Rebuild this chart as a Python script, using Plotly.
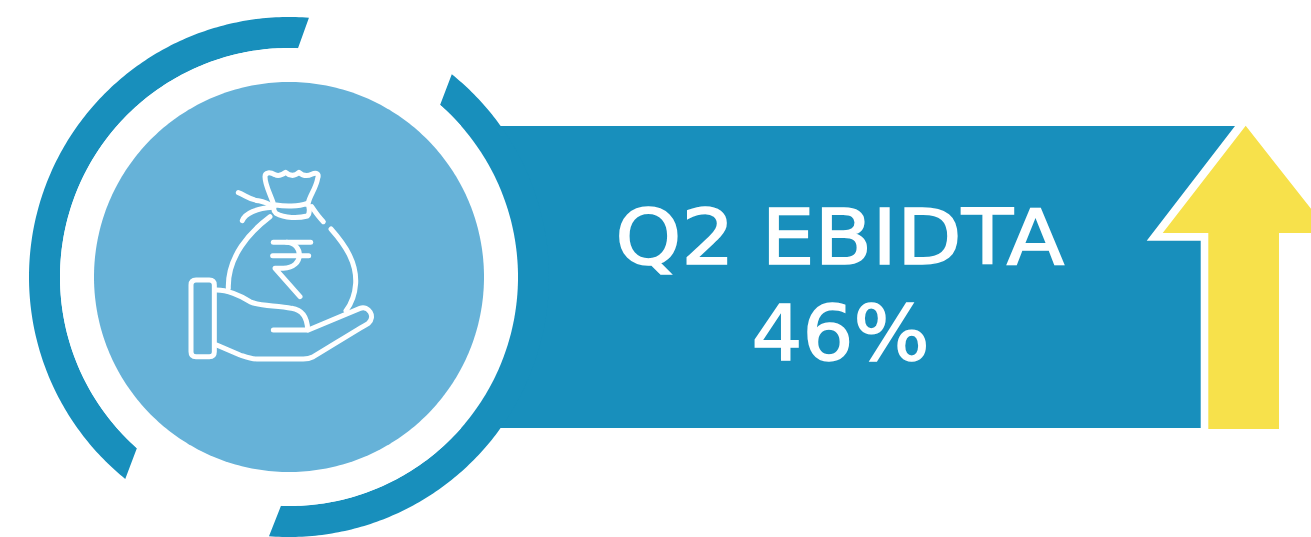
import re
import numpy as np
import plotly.graph_objects as go

TITLE_LINES = ["Q2 EBIDTA", "46%"]
TEXT_WIDTHS = [449, 178]
BLUE = "#188FBC"
LIGHT = "#66B2D8"
YELLOW = "#F7E14B"
CX, CY = 289, 277
R_DISC, R_IN, R_OUT = 195, 229, 260

def poly(pts):
    return "M" + " L".join(f"{x:.2f},{y:.2f}" for x, y in pts) + " Z"

def ang(p):
    return np.arctan2(p[1] - CY, p[0] - CX)

def ring(o1, i1, o2, i2, clockwise):
    a1, b1 = ang(o1), ang(o2)
    if clockwise and b1 < a1:
        b1 += 2 * np.pi
    if not clockwise and b1 > a1:
        b1 -= 2 * np.pi
    c1, d1 = ang(i1), ang(i2)
    if clockwise and d1 < c1:
        d1 += 2 * np.pi
    if not clockwise and d1 > c1:
        d1 -= 2 * np.pi
    t = np.linspace(a1, b1, 200)
    u = np.linspace(d1, c1, 200)
    pts = [(CX + R_OUT * np.cos(v), CY + R_OUT * np.sin(v)) for v in t]
    pts += [(CX + R_IN * np.cos(v), CY + R_IN * np.sin(v)) for v in u]
    return poly(pts)

def disc(r):
    t = np.linspace(0, 2 * np.pi, 361)
    return poly([(CX + r * np.cos(v), CY + r * np.sin(v)) for v in t])

def icon(d):
    # icon outline is authored in a 3x grid anchored at (170,160)
    def conv(m):
        return f"{170 + float(m.group(1)) / 3:.2f},{160 + float(m.group(2)) / 3:.2f}"
    return re.sub(r"(-?[\d.]+),(-?[\d.]+)", conv, d)

ICON_PATHS = [
    "M310,130 C300,100 285,75 285,50 C285,36 300,36 315,44 C325,50 335,46 347,37 C357,46 372,52 387,37 C397,46 410,50 425,43 C440,36 448,42 443,55 C438,85 420,105 415,128",
    "M318,135 C345,140 385,140 412,130 C420,140 420,160 412,168 C385,175 345,175 318,160 C308,150 310,140 318,135 Z",
    "M205,98 C225,105 240,120 265,122 C280,125 295,130 310,140",
    "M217,182 C225,160 260,145 308,142",
    "M425,140 C435,155 445,170 460,185",
    "M300,170 C240,215 172,290 175,385",
    "M483,207 C530,260 560,310 557,370 C555,400 545,430 528,452",
    "M310,247 L422,247",
    "M308,287 L416,287",
    "M350,247 C400,250 405,322 340,325 L315,325 L390,410",
    "M78,360 L118,360 C128,360 133,365 133,375 L133,575 C133,585 128,590 118,590 L78,590 C68,590 63,585 63,575 L63,375 C63,365 68,360 78,360 Z",
    "M140,390 C170,390 210,405 240,425 C270,440 320,435 365,445 C400,450 412,475 413,510",
    "M310,510 L415,510 L570,445 C595,435 618,470 595,490 C560,510 480,560 430,590 C420,595 410,597 400,597 L260,597 C240,597 225,590 210,585 L140,555",
]

shapes = []
def fill(path, color):
    shapes.append(dict(type="path", path=path, fillcolor=color, line=dict(width=0), xref="x", yref="y"))

fill(poly([(400, 126), (1235, 126), (1146.7, 240.7), (1200.7, 240.7), (1200.7, 428), (400, 428)]), BLUE)
fill(ring((309, 17), (298, 48), (126, 478), (137, 448), False), BLUE)
fill(ring((452, 74), (440, 105), (269, 536), (281, 505), True), BLUE)
fill(disc(R_IN), "#FFFFFF")
fill(disc(R_DISC), LIGHT)
fill(poly([(1245.7, 125.7), (1330, 233), (1279, 233), (1279, 429), (1208.3, 429), (1208.3, 233), (1162.7, 233)]), YELLOW)
for d in ICON_PATHS:
    shapes.append(dict(type="path", path=icon(d), line=dict(color="#FFFFFF", width=5), xref="x", yref="y",
                       fillcolor="rgba(0,0,0,0)"))

fig = go.Figure()
fig.update_layout(
    width=1311, height=537, margin=dict(l=0, r=0, t=0, b=0),
    paper_bgcolor="#FFFFFF", plot_bgcolor="#FFFFFF", showlegend=False,
    xaxis=dict(range=[0, 1311], visible=False, fixedrange=True),
    yaxis=dict(range=[537, 0], visible=False, fixedrange=True),
    shapes=shapes,
    annotations=[
        dict(x=840, y=y, xref="x", yref="y", text=t, showarrow=False, xanchor="center", yanchor="middle",
             font=dict(family="DejaVu Sans", size=77, color="#FFFFFF"))
        for t, y in zip(TITLE_LINES, [237, 333])
    ],
)
post = """
document.body.style.margin='0';document.body.style.overflow='hidden';
var w=%s;
document.querySelectorAll('.annotation-text').forEach(function(t,i){
  t.setAttribute('textLength',w[i]);t.setAttribute('lengthAdjust','spacingAndGlyphs');
  t.style.stroke='#FFFFFF';t.style.strokeWidth='1.5px';t.style.strokeLinejoin='miter';
});
document.querySelectorAll('.shapelayer path').forEach(function(p){p.style.strokeLinecap='round';p.style.strokeLinejoin='round';});
""" % TEXT_WIDTHS
fig.write_html("out.html", config=dict(displayModeBar=False), post_script=post)
